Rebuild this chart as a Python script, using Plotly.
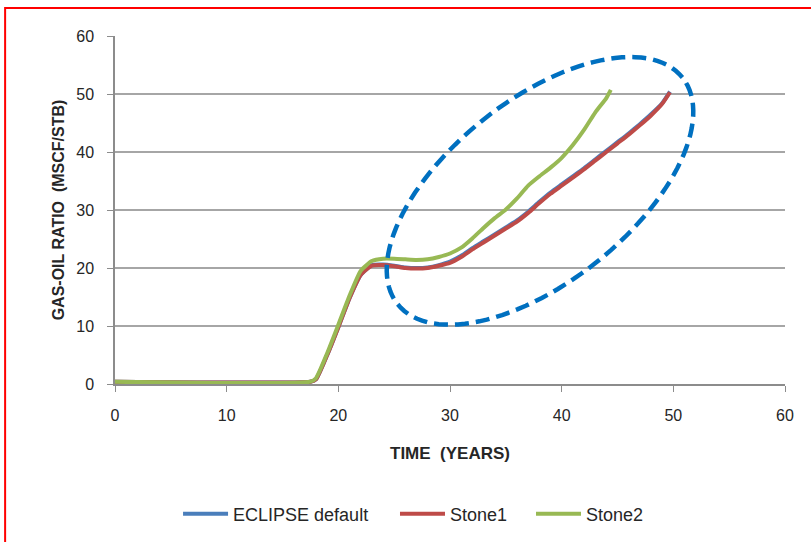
import numpy as np
import plotly.graph_objects as go

# time (years) and gas-oil ratio (MSCF/STB)
t_s1 = [0, 17.5, 18, 19, 20, 21, 22, 23, 24, 25, 26, 27, 28, 29, 30, 31, 32, 33, 34, 35,
        36, 37, 38, 39, 40, 41, 42, 43, 44, 45, 46, 47, 48, 49, 49.7]
stone1 = [0.4, 0.4, 0.8, 5.0, 9.8, 14.8, 18.8, 20.4, 20.5, 20.3, 20.0, 19.9, 20.0, 20.4, 20.9,
          21.9, 23.2, 24.4, 25.6, 26.8, 28.0, 29.5, 31.2, 32.8, 34.2, 35.6, 37.0, 38.5, 40.0,
          41.5, 43.0, 44.6, 46.3, 48.3, 50.3]
eclipse = [0.4, 0.4, 0.8, 5.0, 9.8, 14.8, 18.8, 20.5, 20.6, 20.4, 20.1, 20.0, 20.1, 20.5, 21.1,
           22.1, 23.4, 24.6, 25.8, 27.0, 28.2, 29.7, 31.4, 33.0, 34.4, 35.8, 37.2, 38.7, 40.2,
           41.7, 43.2, 44.8, 46.5, 48.4, 50.4]

t_s2 = [0, 17.5, 18, 19, 20, 21, 22, 23, 24, 25, 26, 27, 28, 29, 30, 31, 32, 33, 34, 35,
        36, 37, 38, 39, 40, 41, 42, 43, 44, 44.4]
stone2 = [0.4, 0.4, 1.0, 5.3, 10.2, 15.2, 19.5, 21.2, 21.6, 21.6, 21.5, 21.4, 21.5, 21.9, 22.5,
          23.5, 25.1, 26.9, 28.6, 30.1, 32.0, 34.2, 35.8, 37.3, 39.0, 41.2, 43.8, 46.8, 49.3, 50.7]

series = [("ECLIPSE default", t_s1, eclipse, "#4A7EBB", "legend"),
          ("Stone1", t_s1, stone1, "#BE4B48", "legend2"),
          ("Stone2", t_s2, stone2, "#98B954", "legend3")]

fig = go.Figure()
for name, t, v, c, lg in series:
    fig.add_trace(go.Scatter(x=t, y=v, name=name, mode="lines", legend=lg,
                             line=dict(color=c, width=4, shape="spline", smoothing=0.5)))

# dashed ellipse highlighting the divergence (drawn in pixel proportions)
px_x = 670 / 60.0
px_y = 348 / 60.0
th = np.linspace(0, 2 * np.pi, 121)
ang = np.radians(38.5)
a, b = 182, 91
ex = a * np.cos(th) * np.cos(ang) - b * np.sin(th) * np.sin(ang)
ey = a * np.cos(th) * np.sin(ang) + b * np.sin(th) * np.cos(ang)
cx, cy = 38.06, 33.3
xs = cx + ex / px_x
ys = cy + ey / px_y
path = "M " + " L ".join(f"{x:.3f},{y:.3f}" for x, y in zip(xs, ys)) + " Z"
fig.add_shape(type="path", path=path, xref="x", yref="y",
              line=dict(color="#0070C0", width=4.5, dash="14px,7px"))

# red frame around the picture
fig.add_shape(type="rect", xref="paper", yref="paper",
              x0=-0.164, x1=1.2, y0=-0.6, y1=1.0805,
              line=dict(color="#FF0000", width=2), layer="above")

font = "Liberation Sans"
leg = dict(orientation="h", y=-0.374, yanchor="middle", xanchor="left",
           font=dict(size=18, color="#262626"), itemwidth=45, bgcolor="rgba(0,0,0,0)")
fig.update_layout(
    width=811, height=542,
    margin=dict(l=115, r=26, t=36, b=158, autoexpand=False),
    paper_bgcolor="white", plot_bgcolor="white",
    font=dict(family=font, size=16, color="#262626"),
    showlegend=True,
    legend=dict(leg, x=0.0941),
    legend2=dict(leg, x=0.4179),
    legend3=dict(leg, x=0.6209),
)
fig.update_xaxes(range=[0, 60], dtick=10, showgrid=False, zeroline=False,
                 showline=True, linecolor="#8C8C8C", linewidth=1.5, automargin=False,
                 ticks="outside", ticklen=6, tickcolor="#8C8C8C", ticklabelstandoff=10,
                 title=dict(text="<b>TIME  (YEARS)</b>", font=dict(size=17), standoff=24))
fig.update_yaxes(range=[0, 60], dtick=10, showgrid=True, gridcolor="#A6A6A6", gridwidth=1.5,
                 zeroline=False, showline=True, linecolor="#8C8C8C", linewidth=1.5, automargin=False,
                 ticks="outside", ticklen=6, tickcolor="#8C8C8C", ticklabelstandoff=10,
                 title=dict(text="<b>GAS-OIL RATIO  (MSCF/STB)</b>", font=dict(size=16), standoff=8))

fig.write_html("out.html", config={"displayModeBar": False},
               post_script="document.body.style.margin='0px';")
